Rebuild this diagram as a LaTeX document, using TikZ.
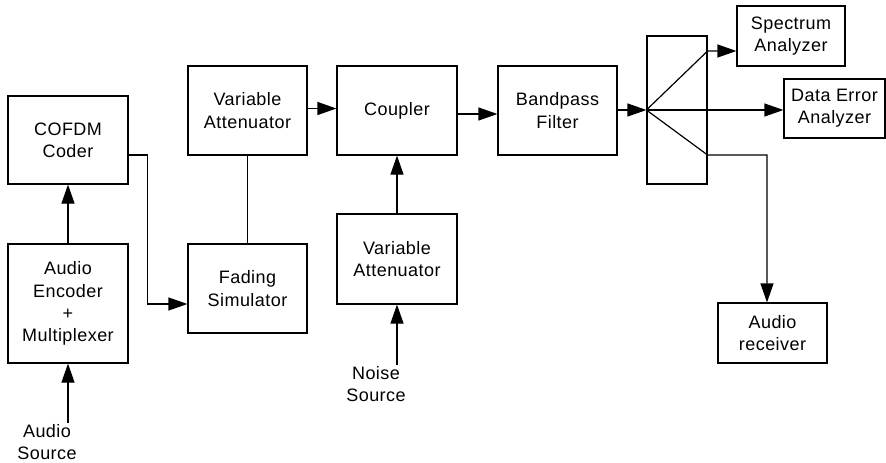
\documentclass[tikz,border=0pt]{standalone}
\usepackage{fontspec}
\setmainfont[LetterSpace=2.5]{Liberation Sans}
\usepackage{tikz}
\usetikzlibrary{arrows.meta}
\usetikzlibrary{positioning}
\tikzstyle{block} = [rectangle, minimum width=120pt, minimum height=89pt, text centered, align=center, draw=black, line width=1.2pt, inner sep=2pt]
\tikzstyle{srctext} = [align=center, inner sep=1pt]
\tikzstyle{arrow} = [line width=1.2pt,-{Triangle[length=19pt,width=13pt]}]
\tikzstyle{link} = [line width=1.2pt]

\begin{document}
\begin{tikzpicture}[x=1pt, y=-1pt, font=\fontsize{18}{22.3}\selectfont]
    \useasboundingbox (0,0) rectangle (886,463);

    \node (cofdm) [block, minimum height=88pt] at (68,140) {COFDM\\Coder};
    \node (enc) [block, minimum height=119pt] at (68,303.5) {Audio\\Encoder\\+\\Multiplexer};
    \node (vatt1) [block, minimum width=119pt] at (247.5,110.5) {Variable\\Attenuator};
    \node (fading) [block, minimum width=119pt] at (247.5,288.5) {Fading\\Simulator};
    \node (coupler) [block] at (397,110.5) {Coupler};
    \node (vatt2) [block, minimum height=90pt] at (397,259) {Variable\\Attenuator};
    \node (bandpass) [block, minimum width=119pt] at (557.5,110.5) {Bandpass\\Filter};
    \node (splitter) [block, minimum width=60pt, minimum height=148pt] at (677,110) {};
    \node (spectrum) [block, minimum width=108pt, minimum height=60pt] at (791,36) {Spectrum\\Analyzer};
    \node (dataerr) [block, minimum width=101pt, minimum height=59pt] at (834.5,108.5) {Data Error\\Analyzer};
    \node (receiver) [block, minimum width=109pt, minimum height=60pt] at (772.5,333) {Audio\\receiver};
    \node (audiosrc) [srctext] at (47,442) {Audio\\Source};
    \node (noisesrc) [srctext] at (376,384) {Noise\\Source};

    \draw [arrow] (audiosrc.north -| enc.south) -- (enc.south);
    \draw [arrow] (enc.north) -- (cofdm.south);
    \draw [arrow] ([yshift=-15pt]cofdm.east) -- ++(19,0) |- ([yshift=-15.5pt]fading.west);
    \draw [link] (vatt1.south) -- (fading.north);
    \draw [arrow] ([yshift=2pt]vatt1.east) -- ([yshift=2pt]coupler.west);
    \draw [arrow] (noisesrc.north -| vatt2.south) -- (vatt2.south);
    \draw [arrow] (vatt2.north) -- (coupler.south);
    \draw [arrow] ([yshift=-3.5pt]coupler.east) -- ([yshift=-3.5pt]bandpass.west);
    \draw [arrow] (bandpass.east |- splitter.west) -- (splitter.west);

    % splitter outputs
    \draw [arrow] (splitter.west) -- ([yshift=-15pt]spectrum.west -| splitter.east) -- ([yshift=-15pt]spectrum.west);
    \draw [arrow] (splitter.west) -- (splitter.west -| dataerr.west);
    \draw [arrow] (splitter.west) -- ([yshift=-45pt]splitter.east) -| ([xshift=-5.5pt]receiver.north);

\end{tikzpicture}
\end{document}
